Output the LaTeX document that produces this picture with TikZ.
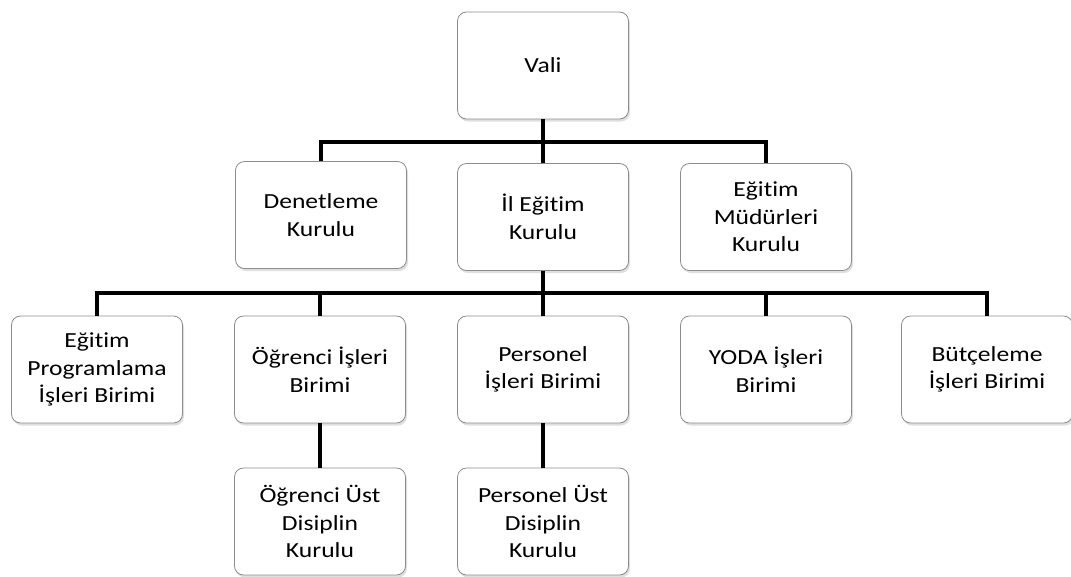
\documentclass[tikz,border=0pt]{standalone}
\usepackage{fontspec}
\setmainfont[FakeStretch=1.19,Ligatures={NoCommon}]{Carlito}
\usetikzlibrary{shadows}
\begin{document}
\begin{tikzpicture}[x=1pt,y=-1pt,
  box/.style={draw=black!45, line width=0.8pt, fill=white, rounded corners=9pt,
    minimum width=171pt, minimum height=107pt, align=center, inner sep=2pt,
    font=\fontsize{21.5}{27.5}\selectfont,
    drop shadow={shadow xshift=1.5pt, shadow yshift=-2.5pt, opacity=0.25}},
  conn/.style={line width=3.6pt, black}]
\useasboundingbox (0,0) rectangle (1071,576);
\node[box] (vali) at (543,65.5) {Vali};
\node[box] (den) at (321,215) {Denetleme\\Kurulu};
\node[box] (il) at (543,217) {İl Eğitim\\Kurulu};
\node[box] (mud) at (766,217) {Eğitim\\Müdürleri\\Kurulu};
\node[box] (ep) at (97,369.5) {Eğitim\\Programlama\\İşleri Birimi};
\node[box] (og) at (320,369.5) {Öğrenci İşleri\\Birimi};
\node[box] (pe) at (543,369.5) {Personel\\İşleri Birimi};
\node[box] (yo) at (766,369.5) {YODA İşleri\\Birimi};
\node[box] (bu) at (987,369.5) {Bütçeleme\\İşleri Birimi};
\node[box] (ogu) at (320,521.5) {Öğrenci Üst\\Disiplin\\Kurulu};
\node[box] (peu) at (543,521.5) {Personel Üst\\Disiplin\\Kurulu};
\coordinate (b1) at (543,142);
\coordinate (b2) at (543,293);
\draw[conn] (vali.south) -- (il.north);
\draw[conn] (den.north) |- (b1) -| (mud.north);
\draw[conn] (il.south) -- (pe.north);
\draw[conn] (ep.north) |- (b2) -| (bu.north);
\draw[conn] (og.north) -- (og.north |- b2);
\draw[conn] (yo.north) -- (yo.north |- b2);
\draw[conn] (og.south) -- (ogu.north);
\draw[conn] (pe.south) -- (peu.north);
\end{tikzpicture}
\end{document}
